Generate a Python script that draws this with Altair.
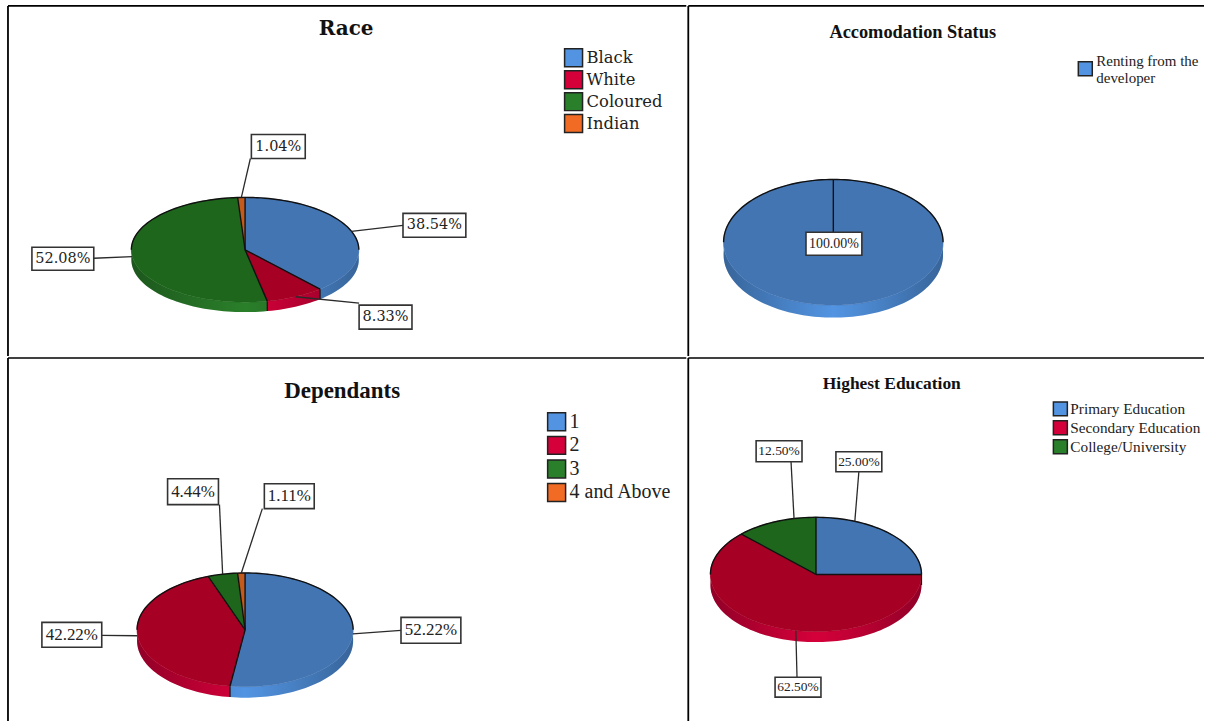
import math
import altair as alt

# Survey breakdowns: one category list and one percentage list per question
RACE_CATS = ["Black", "White", "Coloured", "Indian"]
RACE_VALS = [38.54, 8.33, 52.08, 1.04]
ACCOM_CATS = ["Renting from the developer"]
ACCOM_VALS = [100.00]
DEP_CATS = ["1", "2", "3", "4 and Above"]
DEP_VALS = [52.22, 42.22, 4.44, 1.11]
EDU_CATS = ["Primary Education", "Secondary Education", "College/University"]
EDU_VALS = [25.00, 62.50, 12.50]

# Slice palette: legend and rim shade, then the darker top face
RIM = ["#5294E2", "#D5003A", "#2A7F2A", "#F26B24"]
TOP = ["#4475B3", "#A60024", "#1F661D", "#C45A1C"]
BOX_STROKE = "#333333"

PANELS = [
    dict(title="Race", cats=RACE_CATS, vals=RACE_VALS,
         origin=(8, 5), size=(680, 351),
         pie=(245.7, 249.5, 114, 52.5, 10),
         title_pos=(347, 34), title_font="DejaVu Serif", title_size=20,
         label_font="DejaVu Serif", label_size=14.5,
         legend=dict(x=565, y=47, sym=324, row=-2, font="DejaVu Serif", size=16.4, offset=3),
         boxes=[(404, 213, 467, 237), (360, 305, 413, 329), (32, 247, 94, 270), (252, 134, 306, 158)],
         ends=[(404, 225), (360, 303), (94, 258), (251, 158)],
         anchors=[None, None, None, None]),
    dict(title="Accomodation Status", cats=ACCOM_CATS, vals=ACCOM_VALS,
         origin=(688, 5), size=(517, 351),
         pie=(833.4, 242, 110, 63, 12.5),
         title_pos=(913, 37.5), title_font="Liberation Serif", title_size=18.4,
         label_font="Liberation Serif", label_size=14,
         legend=dict(x=1078, y=60, sym=196, row=4, font="Liberation Serif", size=15, offset=3,
                     baseline="bottom"),
         boxes=[(806, 232, 862, 255)],
         ends=[None],
         anchors=[None]),
    dict(title="Dependants", cats=DEP_CATS, vals=DEP_VALS,
         origin=(8, 357), size=(680, 364),
         pie=(245.7, 629.5, 108.3, 57, 11),
         title_pos=(343, 397), title_font="Liberation Serif", title_size=23,
         label_font="Liberation Serif", label_size=17,
         legend=dict(x=548, y=411, sym=324, row=-0.4, font="Liberation Serif", size=20, offset=3),
         boxes=[(402, 617, 462, 643), (42, 622, 102, 647), (168, 478, 219, 504), (265, 483, 315, 508)],
         ends=[(402, 630), (102, 635), (220, 504), (263, 508)],
         anchors=[None, None, None, None]),
    dict(title="Highest Education", cats=EDU_CATS, vals=EDU_VALS,
         origin=(688, 357), size=(517, 364),
         pie=(816, 574, 105.8, 57.3, 10.5),
         title_pos=(892, 388), title_font="Liberation Serif", title_size=17.5,
         label_font="Liberation Serif", label_size=13.5,
         legend=dict(x=1053, y=400, sym=196, row=-1, font="Liberation Serif", size=15.3, offset=2),
         boxes=[(836, 451, 882, 471), (775, 677, 821, 697), (756, 440, 802, 461)],
         ends=[(859, 471), (797, 677), (791, 461)],
         # leaders here leave the rim away from the slice mid-angles
         anchors=[21.6, 191, 348]),
]


def rim_point(pie, angle, drop=0.0):
    cx, cy, a, b, _ = pie
    t = math.radians(angle)
    return cx + a * math.sin(t), cy - b * math.cos(t) + drop


def arc_points(pie, start, end, drop=0.0):
    steps = max(2, int(abs(end - start) / 2) + 1)
    return [rim_point(pie, start + (end - start) * i / (steps - 1), drop) for i in range(steps)]


def local(points, ox, oy):
    return [[x - ox, y - oy] for x, y in points]


def feature(ring, ox, oy, **props):
    ring = local(ring, ox, oy)
    if ring[0] != ring[-1]:
        ring.append(ring[0])
    return {"type": "Feature", "properties": props,
            "geometry": {"type": "Polygon", "coordinates": [ring]}}


def path_feature(points, ox, oy):
    return {"type": "Feature", "properties": {},
            "geometry": {"type": "LineString", "coordinates": local(points, ox, oy)}}


def features(items):
    return alt.InlineData(values={"type": "FeatureCollection", "features": items},
                          format=alt.DataFormat(type="json", property="features"))


def build_panel(p):
    ox, oy = p["origin"]
    w, h = p["size"]
    pie = p["pie"]
    centre = (pie[0], pie[1])
    depth = pie[4]
    total = sum(p["vals"])
    x_scale = alt.Scale(domain=[0, w], range=[0, w])
    y_scale = alt.Scale(domain=[0, h], range=[0, h])
    projection = alt.Projection(type="identity", scale=1, translate=[0, 0]).to_dict()
    X = lambda f: alt.X(f, type="quantitative", scale=x_scale, axis=None)
    Y = lambda f: alt.Y(f, type="quantitative", scale=y_scale, axis=None)

    # Slice extents as angles clockwise from twelve o'clock
    spans, run = [], 0.0
    for v in p["vals"]:
        spans.append((run, run + v / total * 360))
        run += v / total * 360

    bands, faces, seams, outlines = [], [], [], []
    for cat, (s, e), top in zip(p["cats"], spans, TOP):
        band = arc_points(pie, s, e) + arc_points(pie, e, s, depth)
        bands.append(feature(band, ox, oy, cat=cat))
        faces.append(feature([centre] + arc_points(pie, s, e), ox, oy, top=top))
        if 90 <= e < 270:
            ex, ey = rim_point(pie, e)
            seams.append({"x": ex - ox, "y": ey - oy, "y2": ey - oy + depth})
        outlines.append(path_feature([centre, rim_point(pie, s)], ox, oy))

    # Only the far half of the disc carries a dark edge
    outlines.append(path_feature(arc_points(pie, -90, 90), ox, oy))

    shade_ring = arc_points(pie, 90, 270) + arc_points(pie, 270, 90, depth)

    leg = p["legend"]
    legend_opts = dict(
        title=None, orient="none", legendX=leg["x"] - ox, legendY=leg["y"] - oy,
        symbolType="square", symbolSize=leg["sym"], symbolStrokeColor="#222222",
        symbolStrokeWidth=1.5, symbolOpacity=1,
        labelFont=leg["font"], labelFontSize=leg["size"], labelColor="#222222",
        labelOffset=leg["offset"], rowPadding=leg["row"], labelLimit=300,
        labelExpr="split(replace(datum.label, 'from the ', 'from the|'), '|')",
    )
    if "baseline" in leg:
        legend_opts["labelBaseline"] = leg["baseline"]

    rims = alt.Chart(features(bands)).mark_geoshape(strokeWidth=0).encode(
        fill=alt.Fill("properties.cat:N",
                      scale=alt.Scale(domain=p["cats"], range=RIM[:len(p["cats"])]),
                      legend=alt.Legend(**legend_opts))
    ).project(**projection)

    shade = alt.Chart(features([feature(shade_ring, ox, oy)])).mark_geoshape(
        strokeWidth=0,
        fill=alt.LinearGradient(gradient="linear", x1=0, x2=1, y1=0, y2=0, stops=[
            alt.GradientStop(offset=0, color="rgba(0,0,0,0.32)"),
            alt.GradientStop(offset=0.3, color="rgba(0,0,0,0.12)"),
            alt.GradientStop(offset=0.5, color="rgba(0,0,0,0)"),
            alt.GradientStop(offset=0.7, color="rgba(0,0,0,0.12)"),
            alt.GradientStop(offset=1, color="rgba(0,0,0,0.32)"),
        ]),
    ).project(**projection)

    tops = alt.Chart(features(faces)).mark_geoshape(strokeWidth=0.6).encode(
        fill=alt.Fill("properties.top:N", scale=None),
        stroke=alt.Stroke("properties.top:N", scale=None),
    ).project(**projection)

    edges = alt.Chart(features(outlines)).mark_geoshape(
        filled=False, stroke="#111111", strokeWidth=1.4
    ).project(**projection)

    layers = [rims, shade, tops, edges]

    if seams:
        layers.append(alt.Chart(alt.Data(values=seams)).mark_rule(
            color="#111111", strokeWidth=1.2
        ).encode(x=X("x"), y=Y("y"), y2="y2:Q"))

    # Value labels: leader from the rim to a white box holding the percentage
    leaders, boxes = [], []
    for v, (s, e), box, end, anchor in zip(p["vals"], spans, p["boxes"], p["ends"], p["anchors"]):
        x0, y0, x1, y1 = box
        boxes.append({"x": x0 - ox, "x2": x1 - ox, "y": y0 - oy, "y2": y1 - oy,
                      "cx": (x0 + x1) / 2 - ox, "cy": (y0 + y1) / 2 - oy,
                      "label": f"{v:.2f}%"})
        if end is not None:
            ax, ay = rim_point(pie, anchor if anchor is not None else (s + e) / 2)
            leaders.append({"x": ax - ox, "y": ay - oy, "x2": end[0] - ox, "y2": end[1] - oy})

    if leaders:
        layers.append(alt.Chart(alt.Data(values=leaders)).mark_rule(
            color="#2a2a2a", strokeWidth=1.3
        ).encode(x=X("x"), y=Y("y"), x2="x2:Q", y2="y2:Q"))

    layers.append(alt.Chart(alt.Data(values=boxes)).mark_rect(
        fill="white", stroke=BOX_STROKE, strokeWidth=1.6
    ).encode(x=X("x"), x2="x2:Q", y=Y("y"), y2="y2:Q"))

    layers.append(alt.Chart(alt.Data(values=boxes)).mark_text(
        font=p["label_font"], fontSize=p["label_size"], color="#222222", baseline="middle"
    ).encode(x=X("cx"), y=Y("cy"), text="label:N"))

    tx, ty = p["title_pos"]
    layers.append(alt.Chart(alt.Data(values=[{"x": tx - ox, "y": ty - oy, "t": p["title"]}])).mark_text(
        font=p["title_font"], fontSize=p["title_size"], fontWeight="bold",
        color="#111111", baseline="alphabetic"
    ).encode(x=X("x"), y=Y("y"), text="t:N"))

    # Table-style rules along each cell's top and left edges
    layers.append(alt.Chart(alt.Data(values=[{"a": 0}])).mark_rule(
        color="black", strokeWidth=1.6
    ).encode(x=alt.value(0), x2=alt.value(w), y=alt.value(0)))
    layers.append(alt.Chart(alt.Data(values=[{"a": 0}])).mark_rule(
        color="black", strokeWidth=1.8
    ).encode(y=alt.value(0), y2=alt.value(h), x=alt.value(0)))

    return alt.layer(*layers).properties(width=w, height=h)


chart = alt.concat(
    *[build_panel(p) for p in PANELS], columns=2, spacing=0
).resolve_scale(fill="independent", stroke="independent").properties(
    padding={"left": 7, "top": 4, "right": 0, "bottom": 0}, background="white"
).configure_view(stroke=None)

chart.save("out.html", embed_options={"renderer": "svg", "actions": False})
